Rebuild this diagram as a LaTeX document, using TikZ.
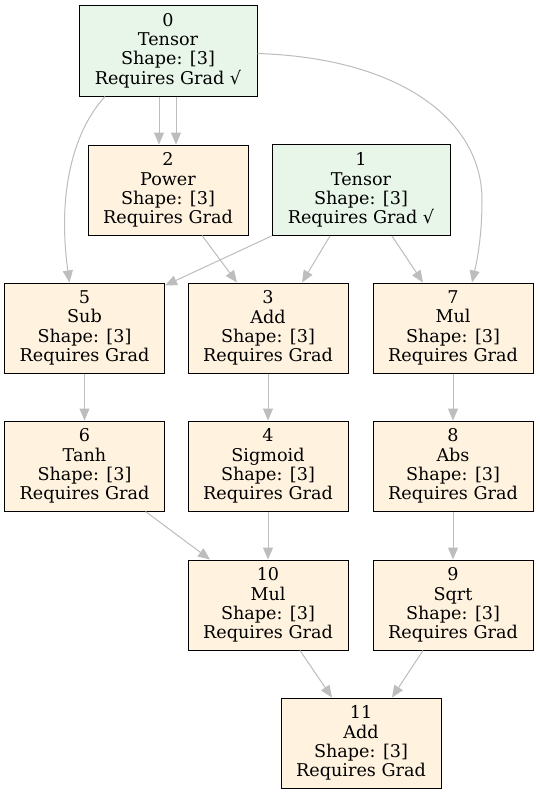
\documentclass[tikz,border=0pt]{standalone}
\usepackage{fontspec}
\setmainfont{DejaVu Serif}
\usetikzlibrary{arrows.meta}
\definecolor{gfill}{HTML}{E8F5E9}
\definecolor{ofill}{HTML}{FFF3E0}
\definecolor{edgec}{HTML}{BDBDBD}
\begin{document}
\begin{tikzpicture}[x=1pt,y=-1pt,
  box/.style={draw=black, line width=1pt, minimum width=160pt, minimum height=90pt, inner sep=0pt, align=center, font=\fontsize{17.6}{19.3}\selectfont},
  tens/.style={box, fill=gfill, minimum width=178pt, minimum height=91pt},
  op/.style={box, fill=ofill},
  conn/.style={draw=edgec, line width=1pt, -{Triangle[length=12pt,width=10pt]}}]
\useasboundingbox[fill=white] (0,0) rectangle (539,795);
\node[tens] (n0) at (168,50.5) {0\\Tensor\\Shape: [3]\\Requires Grad √};
\node[tens] (n1) at (361,190) {1\\Tensor\\Shape: [3]\\Requires Grad √};
\node[op] (n2) at (168,190) {2\\Power\\Shape: [3]\\Requires Grad};
\node[op] (n5) at (84.5,328) {5\\Sub\\Shape: [3]\\Requires Grad};
\node[op] (n3) at (268,328) {3\\Add\\Shape: [3]\\Requires Grad};
\node[op] (n7) at (453,328) {7\\Mul\\Shape: [3]\\Requires Grad};
\node[op] (n6) at (84.5,466) {6\\Tanh\\Shape: [3]\\Requires Grad};
\node[op] (n4) at (268,466) {4\\Sigmoid\\Shape: [3]\\Requires Grad};
\node[op] (n8) at (453,466) {8\\Abs\\Shape: [3]\\Requires Grad};
\node[op] (n10) at (268,605) {10\\Mul\\Shape: [3]\\Requires Grad};
\node[op] (n9) at (453,605) {9\\Sqrt\\Shape: [3]\\Requires Grad};
\node[op] (n11) at (361,743) {11\\Add\\Shape: [3]\\Requires Grad};
% edges
\draw[conn] ([xshift=-9pt]n0.south) -- ([xshift=-9pt]n2.north);
\draw[conn] ([xshift=8pt]n0.south) -- ([xshift=8pt]n2.north);
\draw[conn] ([xshift=-63pt]n0.south) .. controls (70,135) and (58,200) .. ([xshift=-15pt]n5.north);
\draw[conn] ([yshift=-3pt]n0.east) .. controls (400,58) and (482,120) .. (482,200) .. controls (482,240) and (476,265) .. ([xshift=19pt]n7.north);
\draw[conn] (n1.south west) -- ([yshift=-3pt]n5.north east);
\draw[conn] ([xshift=-31pt]n1.south) -- ([xshift=34pt]n3.north);
\draw[conn] ([xshift=31pt]n1.south) -- ([xshift=-30pt]n7.north);
\draw[conn] ([xshift=34pt]n2.south) -- ([xshift=-31pt]n3.north);
\draw[conn] (n5) -- (n6);
\draw[conn] (n3) -- (n4);
\draw[conn] (n7) -- (n8);
\draw[conn] ([xshift=61pt]n6.south) -- ([xshift=-58pt]n10.north);
\draw[conn] (n4) -- (n10);
\draw[conn] (n8) -- (n9);
\draw[conn] ([xshift=32pt]n10.south) -- ([xshift=-29pt]n11.north);
\draw[conn] ([xshift=-30pt]n9.south) -- ([xshift=31pt]n11.north);
\end{tikzpicture}
\end{document}
